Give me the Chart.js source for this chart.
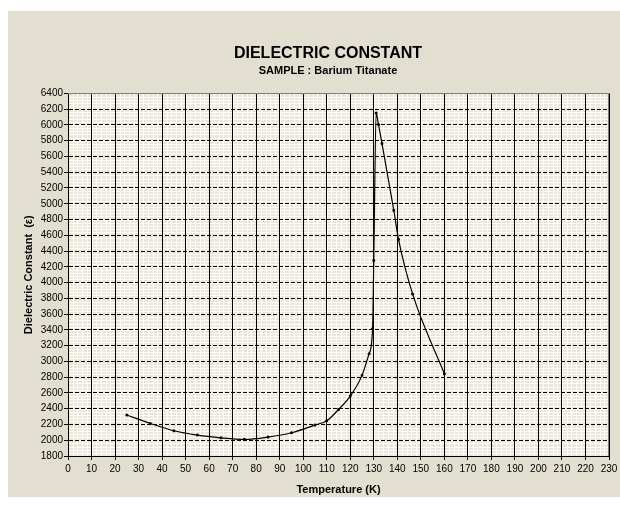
<!DOCTYPE html>
<html lang="en">
<head>
    <meta charset="UTF-8">
    <title>Dielectric Constant</title>
    <script src="https://cdn.jsdelivr.net/npm/chart.js"></script>
    <style>
        body {
            margin: 0;
            padding: 0;
            background-color: #ffffff;
            overflow: hidden;
        }

        /* panel gris-beige como en la hoja de Excel */
        .panel {
            position: absolute;
            left: 8px;
            top: 11px;
            width: 640px;
            height: 486px;
            background-color: #e2ded0;
        }
    </style>
</head>
<body>
    <div class="panel">
        <canvas id="myChart" width="640" height="486"></canvas>
    </div>

    <script>
        // datos
        var temperatures = [25, 35, 45, 55, 65, 75, 85, 95, 105, 110, 115, 120, 125, 128, 129.5, 130, 131, 132, 133.5, 138.5, 140.5, 146.5, 160];
        var dielectric = [2320, 2213, 2120, 2065, 2031, 2011, 2040, 2095, 2192, 2246, 2390, 2560, 2823, 3098, 3414, 4280, 6150, 6004, 5764, 4918, 4551, 3856, 2845];

        var xMin = 0, xMax = 230, xStep = 10, xMinor = 2;
        var yMin = 1800, yMax = 6400, yStep = 200, yMinor = 40;

        var points = temperatures.map(function (t, i) {
            return { x: t, y: dielectric[i] };
        });

        // fondo del area y rejilla menor blanca
        var plotBackground = {
            id: 'plotBackground',
            beforeDraw: function (chart) {
                var ctx = chart.ctx;
                var a = chart.chartArea;
                var sx = chart.scales.x, sy = chart.scales.y;
                ctx.save();
                ctx.fillStyle = '#ebe7d8';
                ctx.fillRect(a.left, a.top, a.right - a.left, a.bottom - a.top);
                ctx.strokeStyle = '#ffffff';
                ctx.lineWidth = 1;
                ctx.beginPath();
                for (var v = xMin; v <= xMax; v += xMinor) {
                    var px = Math.round(sx.getPixelForValue(v)) + 0.5;
                    ctx.moveTo(px, a.top);
                    ctx.lineTo(px, a.bottom);
                }
                for (var w = yMin; w <= yMax; w += yMinor) {
                    var py = Math.round(sy.getPixelForValue(w)) + 0.5;
                    ctx.moveTo(a.left, py);
                    ctx.lineTo(a.right, py);
                }
                ctx.stroke();
                ctx.restore();
            },
            afterDatasetsDraw: function (chart) {
                var ctx = chart.ctx;
                var a = chart.chartArea;
                ctx.save();
                ctx.strokeStyle = '#808080';
                ctx.lineWidth = 1;
                ctx.beginPath();
                ctx.moveTo(a.left, Math.round(a.top) + 0.5);
                ctx.lineTo(a.right, Math.round(a.top) + 0.5);
                ctx.moveTo(Math.round(a.right) - 0.5, a.top);
                ctx.lineTo(Math.round(a.right) - 0.5, a.bottom);
                ctx.stroke();
                ctx.restore();
            }
        };

        var ctx = document.getElementById('myChart').getContext('2d');
        var myChart = new Chart(ctx, {
            type: 'scatter',
            data: {
                datasets: [{
                    label: 'Dielectric Constant',
                    data: points,
                    showLine: true,
                    borderColor: '#000000',
                    backgroundColor: '#000000',
                    borderWidth: 1.2,
                    pointRadius: 0.9,
                    pointHoverRadius: 0.9,
                    cubicInterpolationMode: 'monotone'
                }]
            },
            options: {
                responsive: false,
                animation: false,
                layout: {
                    padding: 0
                },
                plugins: {
                    legend: { display: false },
                    tooltip: { enabled: false },
                    title: {
                        display: true,
                        text: 'DIELECTRIC CONSTANT',
                        color: '#000000',
                        font: { family: 'Liberation Sans', size: 16, weight: 'bold' },
                        padding: { top: 33, bottom: 1 }
                    },
                    subtitle: {
                        display: true,
                        text: 'SAMPLE : Barium Titanate',
                        color: '#000000',
                        font: { family: 'Liberation Sans', size: 11, weight: 'bold' },
                        padding: { top: 0, bottom: 16 }
                    }
                },
                scales: {
                    x: {
                        type: 'linear',
                        min: xMin,
                        max: xMax,
                        afterFit: function (scale) { scale.height = 41; },
                        ticks: {
                            stepSize: xStep,
                            maxRotation: 0,
                            autoSkip: false,
                            color: '#000000',
                            padding: 3,
                            font: { family: 'Liberation Sans', size: 10 },
                            callback: function (value) { return String(value); }
                        },
                        grid: {
                            color: '#000000',
                            lineWidth: 1,
                            tickLength: 4
                        },
                        border: { color: '#000000', width: 1 },
                        title: {
                            display: true,
                            text: 'Temperature (K)',
                            color: '#000000',
                            font: { family: 'Liberation Sans', size: 11, weight: 'bold' },
                            padding: { top: 4, bottom: 0 }
                        }
                    },
                    y: {
                        min: yMin,
                        max: yMax,
                        afterFit: function (scale) { scale.width = 60; },
                        ticks: {
                            stepSize: yStep,
                            autoSkip: false,
                            color: '#000000',
                            padding: 1,
                            font: { family: 'Liberation Sans', size: 10 },
                            callback: function (value) { return String(value); }
                        },
                        grid: {
                            color: '#000000',
                            lineWidth: 1,
                            tickLength: 4
                        },
                        border: { color: '#000000', width: 1, dash: [4, 2] },
                        title: {
                            display: true,
                            text: 'Dielectric Constant  (ε)',
                            color: '#000000',
                            font: { family: 'Liberation Sans', size: 11, weight: 'bold' },
                            padding: { top: 14, bottom: 0 }
                        }
                    },
                    // eje vacio a la derecha: solo reserva el margen
                    yRight: {
                        position: 'right',
                        min: yMin,
                        max: yMax,
                        afterFit: function (scale) { scale.width = 39; },
                        ticks: { display: false },
                        grid: { display: false, drawTicks: false },
                        border: { display: false }
                    }
                }
            },
            plugins: [plotBackground]
        });
    </script>
</body>
</html>
